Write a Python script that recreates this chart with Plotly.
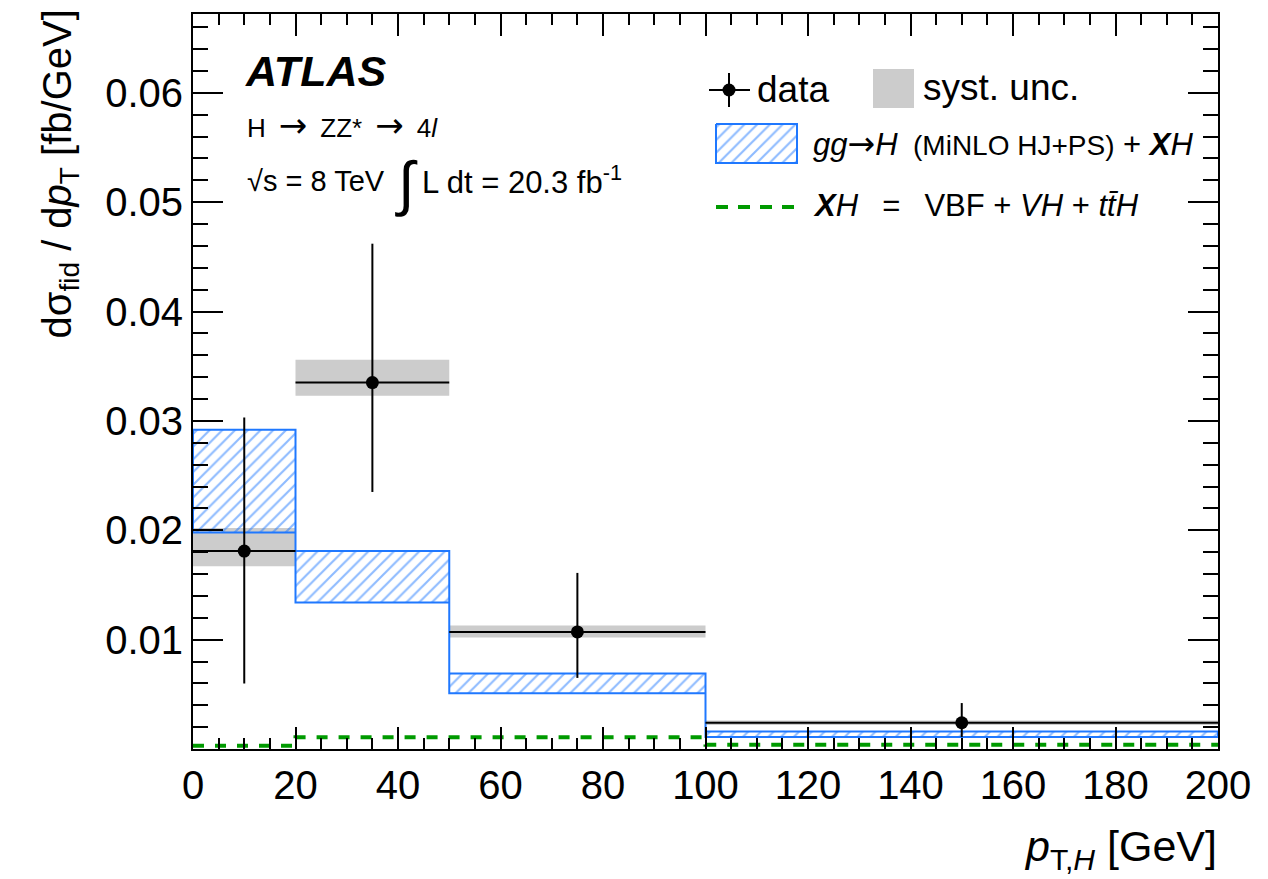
import numpy as np
import plotly.graph_objects as go

# ---------------- data ----------------
bin_edges = [0, 20, 50, 100, 200]
data_val = [0.0181, 0.0335, 0.0107, 0.0024]
data_err_hi = [0.0303, 0.0462, 0.0161, 0.0042]   # upper end of total error bar
data_err_lo = [0.0060, 0.0235, 0.0065, 0.0011]   # lower end of total error bar
syst_hi = [0.0202, 0.0356, 0.0113, 0.0026]
syst_lo = [0.0167, 0.0323, 0.0102, 0.0022]
pred_hi = [0.0292, 0.0181, 0.0069, 0.0016]       # gg->H + XH band
pred_lo = [0.0198, 0.0134, 0.0051, 0.0011]
xh_val = [0.0003, 0.00107, 0.00107, 0.0004]      # VBF + VH + ttH
x_ticks = [0, 20, 40, 60, 80, 100, 120, 140, 160, 180, 200]
y_ticks = [0.01, 0.02, 0.03, 0.04, 0.05, 0.06]
y_tick_text = ["0.01", "0.02", "0.03", "0.04", "0.05", "0.06"]

# ---------------- style / layout constants ----------------
W, H = 1268, 879
L, R, T, B = 193, 1218, 14, 749
FONT = "Liberation Sans, Arial, Helvetica, sans-serif"
BLUE = "#1f78ff"
GREEN = "#009a00"
GREY = "#cccccc"
Y_MAX = 0.0672


def px(x):
    return (x - L) / (R - L)


def py(y):
    return (B - y) / (B - T)


def arrow(size):
    return "<span style='font-family:DejaVu Sans;font-size:%dpx'>\u2192</span>" % size


e = np.array(bin_edges, dtype=float)
n = len(data_val)
centers = (e[:-1] + e[1:]) / 2
halfw = (e[1:] - e[:-1]) / 2

fig = go.Figure()

# systematic uncertainty boxes
sx, sy = [], []
for i in range(n):
    sx += [e[i], e[i + 1], e[i + 1], e[i], e[i], None]
    sy += [syst_lo[i], syst_lo[i], syst_hi[i], syst_hi[i], syst_lo[i], None]
fig.add_trace(go.Scatter(x=sx, y=sy, mode="none", fill="toself", fillcolor=GREY,
                         hoverinfo="skip", showlegend=False))

# prediction band (hatched)
bx, by = [], []
for i in range(n):
    bx += [e[i], e[i + 1]]
    by += [pred_hi[i], pred_hi[i]]
for i in reversed(range(n)):
    bx += [e[i + 1], e[i]]
    by += [pred_lo[i], pred_lo[i]]
bx.append(bx[0])
by.append(by[0])
HATCH = dict(shape="/", fgcolor=BLUE, bgcolor="rgba(0,0,0,0)", size=9, solidity=0.24)
fig.add_trace(go.Scatter(x=bx, y=by, mode="lines", fill="toself",
                         fillcolor="rgba(0,0,0,0)", fillpattern=HATCH,
                         line=dict(color=BLUE, width=2), hoverinfo="skip", showlegend=False))

# XH dashed step
fig.add_trace(go.Scatter(x=list(e), y=list(xh_val) + [xh_val[-1]], mode="lines",
                         line=dict(color=GREEN, width=4, dash="11px,11px", shape="hv"),
                         hoverinfo="skip", showlegend=False))

# data points
dv = np.array(data_val)
fig.add_trace(go.Scatter(
    x=centers, y=dv, mode="markers",
    marker=dict(color="black", size=13),
    error_x=dict(type="data", array=halfw, color="black", thickness=2, width=0),
    error_y=dict(type="data", array=np.array(data_err_hi) - dv,
                 arrayminus=dv - np.array(data_err_lo), color="black", thickness=2, width=0),
    hoverinfo="skip", showlegend=False))

# ---------------- legend symbols on pixel overlay axes ----------------
leg_kw = dict(xaxis="x2", yaxis="y2", hoverinfo="skip", showlegend=False)
fig.add_trace(go.Scatter(x=[709, 750, None, 729, 729], y=[90, 90, None, 73, 107], mode="lines",
                         line=dict(color="black", width=2), **leg_kw))
fig.add_trace(go.Scatter(x=[729], y=[90], mode="markers", marker=dict(color="black", size=13), **leg_kw))
fig.add_trace(go.Scatter(x=[873, 914, 914, 873, 873], y=[69, 69, 108, 108, 69], mode="none",
                         fill="toself", fillcolor=GREY, **leg_kw))
fig.add_trace(go.Scatter(x=[716, 797, 797, 716, 716], y=[124, 124, 163, 163, 124], mode="lines",
                         fill="toself", fillcolor="rgba(0,0,0,0)", fillpattern=HATCH,
                         line=dict(color=BLUE, width=2), **leg_kw))
fig.add_trace(go.Scatter(x=[716, 797], y=[207, 207], mode="lines",
                         line=dict(color=GREEN, width=4, dash="12px,10px"), **leg_kw))

# ---------------- axes ----------------
axis_common = dict(showline=True, linecolor="black", linewidth=2, mirror="allticks",
                   ticks="inside", tickcolor="black", tickwidth=2, showgrid=False,
                   zeroline=False, tickfont=dict(family=FONT, size=40, color="black"))
fig.update_xaxes(range=[0, 200], tickmode="array", tickvals=x_ticks,
                 ticktext=[str(v) for v in x_ticks], ticklen=22,
                 minor=dict(dtick=5, tick0=0, ticklen=11, tickwidth=2, tickcolor="black",
                            ticks="inside", showgrid=False),
                 **axis_common)
fig.update_yaxes(range=[0, Y_MAX], tickmode="array", tickvals=y_ticks, ticktext=y_tick_text,
                 ticklen=30,
                 minor=dict(dtick=0.002, tick0=0, ticklen=15, tickwidth=2, tickcolor="black",
                            ticks="inside", showgrid=False),
                 **axis_common)

fig.update_layout(
    xaxis2=dict(overlaying="x", range=[L, R], visible=False, fixedrange=True),
    yaxis2=dict(overlaying="y", range=[B, T], visible=False, fixedrange=True),
)

# ---------------- text ----------------
ann = []


def add_text(text, x, y, size, xanchor="left", yanchor="middle", angle=0):
    ann.append(dict(text=text, x=px(x), y=py(y), xref="paper", yref="paper",
                    xanchor=xanchor, yanchor=yanchor, showarrow=False, textangle=angle,
                    font=dict(family=FONT, size=size, color="black")))


SP = "\u2002"
add_text("<b><i>ATLAS</i></b>", 243, 71, 43)
add_text("H" + SP + arrow(34) + SP + "ZZ*" + SP + arrow(34) + SP + "4<i>l</i>", 245, 125, 26)
add_text("\u221As = 8 TeV", 245, 181, 29)
add_text("\u222B", 393, 183, 60)
add_text("L dt = 20.3 fb<sup>-1</sup>", 420, 180, 31)

add_text("data", 755, 89, 37)
add_text("syst. unc.", 921, 87, 37)
add_text("<i>gg</i>" + arrow(33) + "<i>H</i>" + SP + "<span style='font-size:28px'>(MiNLO HJ+PS)</span> + "
         "<b><i>X</i></b><i>H</i>", 811, 143, 31)
add_text("<b><i>X</i></b><i>H</i>" + SP + " = " + SP + "VBF + <i>VH</i> + <i>t</i><i>t\u0304</i><i>H</i>",
         811, 205, 31)

# axis titles
add_text("d\u03C3<sub>fid</sub> / d<i>p</i><sub>T</sub> [fb/GeV]", 60, 8, 40,
         xanchor="center", yanchor="top", angle=-90)
add_text("<i>p</i><sub>T,<i>H</i></sub> [GeV]", 1219, 820, 43, xanchor="right", yanchor="top")

fig.update_layout(
    width=W, height=H,
    margin=dict(l=L, r=W - R, t=T, b=H - B, pad=0),
    paper_bgcolor="white", plot_bgcolor="white",
    showlegend=False, annotations=ann,
    font=dict(family=FONT, color="black"),
)

fig.write_html("out.html")
